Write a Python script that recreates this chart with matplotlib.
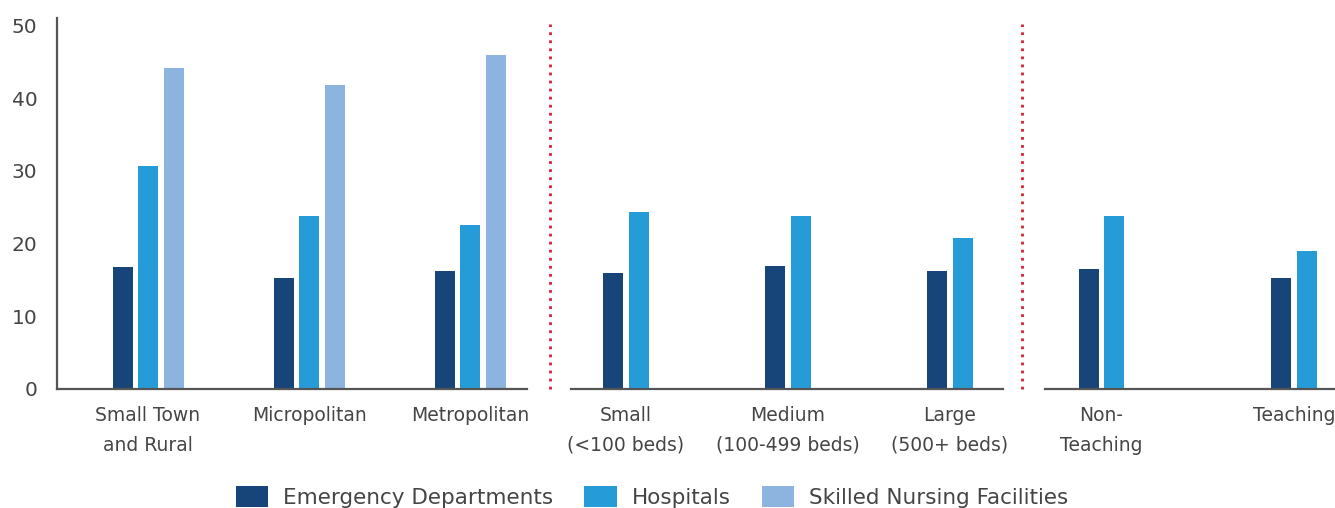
import matplotlib
matplotlib.use("Agg")
import matplotlib.pyplot as plt
from matplotlib.lines import Line2D
from matplotlib.patches import Patch

# data
geo_labels = ["Small Town\nand Rural", "Micropolitan", "Metropolitan"]
geo_ed = [16.8, 15.3, 16.2]
geo_hosp = [30.6, 23.8, 22.5]
geo_snf = [44.1, 41.8, 45.9]

size_labels = ["Small\n(<100 beds)", "Medium\n(100-499 beds)", "Large\n(500+ beds)"]
size_ed = [15.9, 16.9, 16.2]
size_hosp = [24.4, 23.8, 20.8]

teach_labels = ["Non-\nTeaching", "Teaching"]
teach_ed = [16.5, 15.3]
teach_hosp = [23.8, 19.0]

series_names = ["Emergency Departments", "Hospitals", "Skilled Nursing Facilities"]
colors = ["#17457a", "#259bd7", "#8cb4df"]

W, H = 1335, 508
fig = plt.figure(figsize=(W / 100, H / 100), dpi=100)
plt.rcParams['font.family'] = ['DejaVu Sans']
txt = "#454545"

bottom = 1 - 389 / H
top = 1 - 18 / H

# panel pixel extents, first group center, group spacing
panels = [
    (57, 527, 148, 161, geo_labels, [geo_ed, geo_hosp, geo_snf]),
    (571, 1003, 626, 162, size_labels, [size_ed, size_hosp]),
    (1045, 1335, 1101.5, 192.5, teach_labels, [teach_ed, teach_hosp]),
]

for i, (x0, x1, c0, sp, labels, series) in enumerate(panels):
    ax = fig.add_axes([x0 / W, bottom, (x1 - x0) / W, top - bottom])
    n = len(labels)
    ax.set_xlim(-(c0 - x0) / sp, (x1 - c0) / sp)
    ax.set_ylim(0, 51)
    bw = 20 / sp
    step = 25.5 / sp
    k = len(series)
    for j, vals in enumerate(series):
        xs = [g + (j - (k - 1) / 2) * step for g in range(n)]
        ax.bar(xs, vals, width=bw, color=colors[j], zorder=2)
    ax.set_xticks(range(n))
    ax.set_xticklabels(labels, fontsize=13.5, color=txt, linespacing=1.75)
    ax.tick_params(axis="x", length=0, pad=12)
    for s in ["top", "right"]:
        ax.spines[s].set_visible(False)
    ax.spines["bottom"].set_color("#555555")
    ax.spines["bottom"].set_linewidth(1.6)
    if i == 0:
        ax.spines["left"].set_color("#555555")
        ax.spines["left"].set_linewidth(1.6)
        ax.set_yticks([0, 10, 20, 30, 40, 50])
        ax.tick_params(axis="y", length=0, pad=14, labelsize=14.5, labelcolor=txt)
    else:
        ax.spines["left"].set_visible(False)
        ax.set_yticks([])

# red dotted separators
for xp in [550, 1022]:
    fig.add_artist(Line2D([xp / W, xp / W], [1 - 389 / H, 1 - 24 / H],
                          transform=fig.transFigure, color="#d62030",
                          linewidth=2, linestyle=(0, (1, 1.9))))

handles = [Patch(facecolor=c) for c in colors]
fig.legend(handles, series_names, loc="center", bbox_to_anchor=(652 / W, 1 - 497 / H),
           ncol=3, frameon=False, fontsize=15.5, handlelength=1.5, handleheight=1.15,
           handletextpad=0.7, columnspacing=1.45, labelcolor=txt)

fig.savefig("out.png", dpi=100)
